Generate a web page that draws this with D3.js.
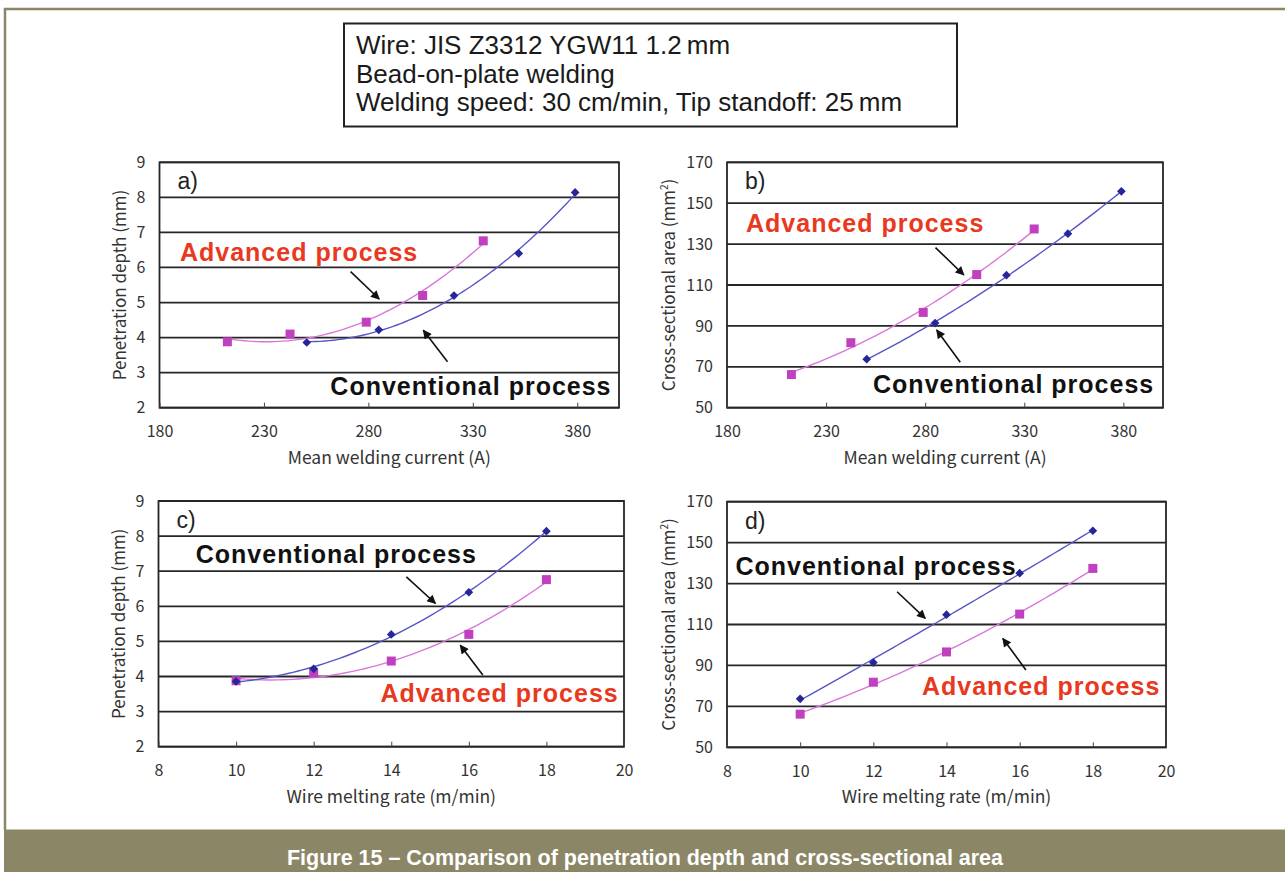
<!DOCTYPE html>
<html>
<head>
<meta charset="utf-8">
<script src="https://d3js.org/d3.v7.min.js"></script>
<style>
  body { margin: 0; background: #fff; }
  text { font-family: "Liberation Sans", Arial, sans-serif; }
  .tick text { font-family: "Noto Sans CJK JP", "Noto Sans", sans-serif; font-size: 16px; fill: #333; }
</style>
</head>
<body>
<svg id="fig" width="1285" height="872"></svg>
<script>
// ---- data ----
const wireRate     = [10, 12, 14, 16, 18];               // m/min
const convCurrent  = [250.5, 285, 321, 352, 379];        // A
const advCurrent   = [212.5, 242.5, 279, 306, 335];      // A
const convDepth    = [3.86, 4.22, 5.2, 6.4, 8.14];       // mm
const advDepth     = [3.88, 4.1, 4.44, 5.2, 6.76];       // mm
const convArea     = [73.7, 91.4, 114.8, 135.1, 155.8];  // mm2
const advArea      = [66.2, 81.8, 96.6, 115.1, 137.4];   // mm2

const currentTicks = [180, 230, 280, 330, 380];
const rateTicks    = [8, 10, 12, 14, 16, 18, 20];
const depthTicks   = [2, 3, 4, 5, 6, 7, 8, 9];
const areaTicks    = [50, 70, 90, 110, 130, 150, 170];

const infoLines = ['Wire: JIS Z3312 YGW11 1.2\u2009mm',
                   'Bead-on-plate welding',
                   'Welding speed: 30 cm/min, Tip standoff: 25\u2009mm'];
const caption = 'Figure 15 \u2013 Comparison of penetration depth and cross-sectional area';

// ---- styles ----
const olive = '#8b8766';
const convMark = '#26269a', convLine = '#5656c6';
const advMark = '#c040c0',  advLine = '#d977d9';
const red = '#e8391e';

const svg = d3.select('#fig');

svg.append('defs').append('marker')
  .attr('id', 'arr').attr('viewBox', '0 0 10 10')
  .attr('refX', 9).attr('refY', 5)
  .attr('markerUnits', 'userSpaceOnUse')
  .attr('markerWidth', 11).attr('markerHeight', 9)
  .attr('orient', 'auto')
  .append('path').attr('d', 'M0,0 L10,5 L0,10 z').attr('fill', '#111');

// outer frame + caption band
svg.append('path').attr('d', 'M5,830 V9 H1285')
  .attr('fill', 'none').attr('stroke', olive).attr('stroke-width', 2.5);
svg.append('rect').attr('x', 4).attr('y', 829.5).attr('width', 1281).attr('height', 43).attr('fill', olive);
svg.append('text').attr('x', 645).attr('y', 864.5).attr('text-anchor', 'middle')
  .attr('fill', '#fff').attr('font-weight', 'bold').attr('font-size', 22)
  .attr('textLength', 716).attr('lengthAdjust', 'spacingAndGlyphs')
  .text(caption);

// info box
svg.append('rect').attr('x', 344).attr('y', 23.5).attr('width', 613).attr('height', 103)
  .attr('fill', '#fff').attr('stroke', '#222').attr('stroke-width', 2);
svg.append('g').selectAll('text').data(infoLines).join('text')
  .attr('x', 356).attr('y', (d, i) => 54 + i * 28.6)
  .attr('font-size', 26).attr('fill', '#1a1a1a')
  .text(d => d);

// quadratic least-squares trendline (as the spreadsheet draws it)
function quadFit(xs, ys) {
  const S = [0, 0, 0, 0, 0], T = [0, 0, 0];
  xs.forEach((x, i) => {
    for (let k = 0; k < 5; k++) S[k] += Math.pow(x, k);
    for (let k = 0; k < 3; k++) T[k] += Math.pow(x, k) * ys[i];
  });
  const A = [[S[0], S[1], S[2], T[0]], [S[1], S[2], S[3], T[1]], [S[2], S[3], S[4], T[2]]];
  for (let c = 0; c < 3; c++) {
    for (let r = c + 1; r < 3; r++) {
      const f = A[r][c] / A[c][c];
      for (let k = c; k < 4; k++) A[r][k] -= f * A[c][k];
    }
  }
  const b = [0, 0, 0];
  for (let r = 2; r >= 0; r--) {
    let s = A[r][3];
    for (let k = r + 1; k < 3; k++) s -= A[r][k] * b[k];
    b[r] = s / A[r][r];
  }
  return x => b[0] + b[1] * x + b[2] * x * x;
}

const panels = [
  { label: 'a)', conv: [convCurrent, convDepth], adv: [advCurrent, advDepth],
    xDomain: [180, 400], xTicks: currentTicks, yDomain: [2, 9], yTicks: depthTicks,
    xTitle: 'Mean welding current (A)', yTitle: 'Penetration depth (mm)', sup: false,
    box: { x0: 159.5, x1: 619, y0: 162.3, y1: 407.7 }, yTitleOff: 39,
    advText: [189.8, 6.19], convText: [261.8, 2.37],
    advArrow: [[271.5, 5.88], [285.2, 5.1]], convArrow: [[317.9, 3.31], [306.3, 4.21]] },
  { label: 'b)', conv: [convCurrent, convArea], adv: [advCurrent, advArea],
    xDomain: [180, 400], xTicks: currentTicks, yDomain: [50, 170], yTicks: areaTicks,
    xTitle: 'Mean welding current (A)', yTitle: 'Cross-sectional area (mm', sup: true,
    box: { x0: 727, x1: 1163, y0: 162.3, y1: 407.7 }, yTitleOff: 58,
    advText: [189.6, 136.1], convText: [253.7, 57.3],
    advArrow: [[285.2, 128.3], [299.5, 114.9]], convArrow: [[297.7, 72.2], [285.8, 88.0]] },
  { label: 'c)', conv: [wireRate, convDepth], adv: [wireRate, advDepth],
    xDomain: [8, 20], xTicks: rateTicks, yDomain: [2, 9], yTicks: depthTicks,
    xTitle: 'Wire melting rate (m/min)', yTitle: 'Penetration depth (mm)', sup: false,
    box: { x0: 158.5, x1: 624, y0: 501, y1: 746.7 }, yTitleOff: 39,
    convText: [8.96, 7.22], advText: [13.72, 3.28],
    convArrow: [[14.39, 6.84], [15.14, 6.08]], advArrow: [[16.36, 4.04], [15.78, 4.89]] },
  { label: 'd)', conv: [wireRate, convArea], adv: [wireRate, advArea],
    xDomain: [8, 20], xTicks: rateTicks, yDomain: [50, 170], yTicks: areaTicks,
    xTitle: 'Wire melting rate (m/min)', yTitle: 'Cross-sectional area (mm', sup: true,
    box: { x0: 727, x1: 1166, y0: 501.7, y1: 747.3 }, yTitleOff: 58,
    convText: [8.23, 134.2], advText: [13.33, 75.6],
    convArrow: [[12.65, 126.0], [13.42, 113.0]], advArrow: [[16.17, 87.8], [15.54, 103.2]] }
];

panels.forEach(p => {
  const b = p.box;
  const x = d3.scaleLinear().domain(p.xDomain).range([b.x0, b.x1]);
  const y = d3.scaleLinear().domain(p.yDomain).range([b.y1, b.y0]);
  const g = svg.append('g');

  // horizontal gridlines
  g.append('g').selectAll('line').data(p.yTicks).join('line')
    .attr('x1', b.x0).attr('x2', b.x1)
    .attr('y1', d => y(d)).attr('y2', d => y(d))
    .attr('stroke', '#262626').attr('stroke-width', 1.8);
  g.append('rect').attr('x', b.x0).attr('y', b.y0)
    .attr('width', b.x1 - b.x0).attr('height', b.y1 - b.y0)
    .attr('fill', 'none').attr('stroke', '#262626').attr('stroke-width', 1.8);

  // axes
  const ax = g.append('g').attr('transform', `translate(0,${b.y1})`)
    .call(d3.axisBottom(x).tickValues(p.xTicks).tickFormat(d3.format('d'))
      .tickSizeInner(-5).tickSizeOuter(0).tickPadding(18));
  ax.select('.domain').remove();
  ax.selectAll('.tick line').attr('stroke', '#444');
  const ay = g.append('g').attr('transform', `translate(${b.x0},0)`)
    .call(d3.axisLeft(y).tickValues(p.yTicks).tickFormat(d3.format('d'))
      .tickSize(0).tickPadding(14));
  ay.select('.domain').remove();

  // axis titles
  g.append('text').attr('x', (b.x0 + b.x1) / 2).attr('y', b.y1 + 56)
    .attr('text-anchor', 'middle').attr('font-size', 17.5).attr('fill', '#333')
    .style('font-family', '"Noto Sans CJK JP", sans-serif')
    .text(p.xTitle);
  const yt = g.append('text')
    .attr('transform', `translate(${b.x0 - p.yTitleOff},${(b.y0 + b.y1) / 2}) rotate(-90)`)
    .attr('text-anchor', 'middle').attr('dy', '0.35em').attr('font-size', 17).attr('fill', '#333')
    .style('font-family', '"Noto Sans CJK JP", sans-serif')
    .text(p.yTitle);
  if (p.sup) {
    yt.append('tspan').attr('font-size', 10).attr('dy', -7).text('2');
    yt.append('tspan').attr('dy', 7).text(')');
  }

  // panel label
  g.append('text').attr('x', b.x0 + 18).attr('y', b.y0 + 27)
    .attr('font-size', 23).attr('fill', '#222').text(p.label);

  // series: trendline + markers
  const series = [
    { xs: p.adv[0], ys: p.adv[1], line: advLine, mark: advMark, size: 81, rot: 0 },
    { xs: p.conv[0], ys: p.conv[1], line: convLine, mark: convMark, size: 38, rot: 45 }
  ];
  series.forEach(s => {
    const f = quadFit(s.xs, s.ys);
    const lo = d3.min(s.xs), hi = d3.max(s.xs);
    const xsFine = d3.range(0, 61).map(i => lo + (hi - lo) * i / 60);
    g.append('path').datum(xsFine)
      .attr('d', d3.line().x(d => x(d)).y(d => y(f(d))))
      .attr('fill', 'none').attr('stroke', s.line).attr('stroke-width', 1.4);
    g.append('g').selectAll('path').data(s.xs.map((v, i) => [v, s.ys[i]])).join('path')
      .attr('transform', d => `translate(${x(d[0])},${y(d[1])}) rotate(${s.rot})`)
      .attr('d', d3.symbol().type(d3.symbolSquare).size(s.size))
      .attr('fill', s.mark);
  });

  // annotations
  const noteStyle = t => t.attr('font-size', 25).attr('font-weight', 'bold').attr('letter-spacing', 1);
  g.append('text').attr('x', x(p.advText[0])).attr('y', y(p.advText[1]))
    .attr('fill', red).call(noteStyle).text('Advanced process');
  g.append('text').attr('x', x(p.convText[0])).attr('y', y(p.convText[1]))
    .attr('fill', '#111').call(noteStyle).text('Conventional process');
  [p.advArrow, p.convArrow].forEach(a => {
    g.append('line')
      .attr('x1', x(a[0][0])).attr('y1', y(a[0][1]))
      .attr('x2', x(a[1][0])).attr('y2', y(a[1][1]))
      .attr('stroke', '#111').attr('stroke-width', 1.6)
      .attr('marker-end', 'url(#arr)');
  });
});
</script>
</body>
</html>
